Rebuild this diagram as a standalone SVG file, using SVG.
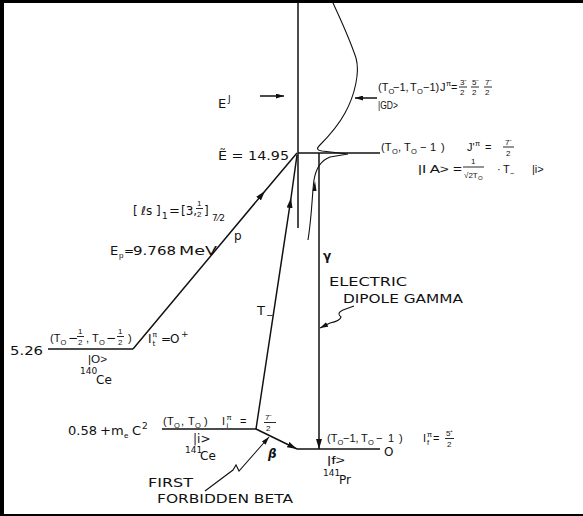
<svg xmlns="http://www.w3.org/2000/svg" width="583" height="516" viewBox="0 0 583 516">
<style>
text{font-family:"DejaVu Sans","Liberation Sans",Arial,sans-serif;fill:#111;font-size:12px}
.f{font-family:"Liberation Sans",Arial,sans-serif;font-size:11px}
.sb{font-size:7.5px}
.c{font-size:13px}
.s{font-family:"Liberation Sans",Arial,sans-serif;font-size:8px}
.sup{font-size:9px}
.ln{stroke:#111;stroke-width:1.5;fill:none}
.thin{stroke:#111;stroke-width:1.1;fill:none}
.bar{stroke:#111;stroke-width:0.9}
</style>
<defs>
<marker id="ah" viewBox="0 0 10 6" refX="10" refY="3" markerWidth="10" markerHeight="6" markerUnits="userSpaceOnUse" orient="auto"><path d="M0,0 L10,3 L0,6 z" fill="#111"/></marker>
<marker id="ahs" viewBox="0 0 8 5" refX="8" refY="2.5" markerWidth="8" markerHeight="5" markerUnits="userSpaceOnUse" orient="auto"><path d="M0,0 L8,2.5 L0,5 z" fill="#111"/></marker>
</defs>
<rect width="583" height="516" fill="#fff"/>
<g id="frame" fill="#000"><rect x="0" y="0" width="583" height="3"/><rect x="0" y="0" width="4" height="516"/><rect x="0" y="514" width="583" height="2"/></g>

<g id="connectors">
<line class="ln" x1="298" y1="3" x2="298" y2="228"/>
<path id="resonance" class="thin" d="M333,3 C340,18 350,40 356,58 C360,72 355,95 345,113 C337,128 325,140 319,146 Q315,150 322,151 L348,154 L330,157 C322,160 316,168 314,180 C312,195 312,215 308,240"/>
<path d="M315,181 L312.5,191 L316.5,191 z" fill="#111"/>
<polyline class="ln" points="133,349 265,191 297,153" marker-mid="url(#ah)"/>
<polyline class="ln" points="256,429 291,198 297,155" marker-mid="url(#ah)"/>
<line class="ln" x1="319" y1="153" x2="319" y2="449" marker-end="url(#ah)"/>
<line class="ln" x1="256" y1="429" x2="297" y2="449" marker-end="url(#ah)"/>
<line class="ln" x1="260" y1="96" x2="284" y2="96" marker-end="url(#ahs)"/>
<line class="ln" x1="377" y1="98" x2="355" y2="98" marker-end="url(#ahs)"/>
<path class="thin" d="M205,491 L233,470 L236,465 L239,471 L269,437" marker-end="url(#ahs)"/>
<path class="thin" d="M354,306 L343,310 Q336,313 341,317 Q340,321 330,323 L320,328" marker-end="url(#ahs)"/>
</g>

<g id="level-GD">
<text class="f" y="91"><tspan x="378">(T</tspan><tspan class="sb" x="388.5" y="94">O</tspan><tspan x="393" y="91">−1,</tspan><tspan x="410">T</tspan><tspan class="sb" x="417" y="94">O</tspan><tspan x="423" y="91">−1)</tspan><tspan x="440">J</tspan><tspan class="sb" x="446" y="86">π</tspan><tspan x="451" y="91">=</tspan></text>
<text class="s" x="460" y="85">3⁻</text><line class="bar" x1="459" y1="87" x2="467" y2="87"/><text class="s" x="460" y="95">2</text>
<text class="s" x="472" y="85">5⁻</text><line class="bar" x1="471" y1="87" x2="479" y2="87"/><text class="s" x="472" y="95">2</text>
<text class="s" x="485" y="85">7⁻</text><line class="bar" x1="484" y1="87" x2="492" y2="87"/><text class="s" x="485" y="95">2</text>
<text class="f" x="378" y="109" textLength="20" lengthAdjust="spacingAndGlyphs">|GD&gt;</text>
<text class="c" y="108"><tspan x="218">E</tspan><tspan class="sup" x="228" y="102">J</tspan></text>
</g>

<g id="level-IA">
<line class="ln" x1="298" y1="153" x2="380" y2="153"/>
<text class="c" x="218" y="160" textLength="71" lengthAdjust="spacingAndGlyphs">Ẽ = 14.95</text>
<text class="f" y="151"><tspan x="381">(T</tspan><tspan class="sb" x="392" y="154">O</tspan><tspan x="398" y="151">,</tspan><tspan x="404">T</tspan><tspan class="sb" x="411" y="154">O</tspan><tspan x="420" y="151">−</tspan><tspan x="430">1</tspan><tspan x="441">)</tspan></text>
<text class="f" y="151"><tspan x="467">J'</tspan><tspan class="sb" x="475" y="146">π</tspan><tspan x="485" y="151">=</tspan></text>
<text class="s" x="505" y="145">7⁻</text><line class="bar" x1="503" y1="147" x2="514" y2="147"/><text class="s" x="506" y="156">2</text>
<text class="f" x="418" y="173" textLength="44" lengthAdjust="spacingAndGlyphs">|I A&gt; =</text>
<text class="s" x="471" y="164">1</text><line class="bar" x1="463" y1="167" x2="484" y2="167"/>
<text class="s" y="178"><tspan x="464">√2T</tspan><tspan font-size="6" x="478" y="180">O</tspan></text>
<text class="f" y="173"><tspan x="497">·</tspan><tspan x="503">T</tspan><tspan class="sb" x="510" y="176">−</tspan><tspan x="532" y="173">|i&gt;</tspan></text>
</g>

<g id="proton-label">
<text font-size="14" x="133" y="215">[<tspan x="141">ℓs</tspan><tspan x="156">]</tspan></text>
<text class="sup" x="162" y="219">1</text>
<text class="c" x="169" y="215">=</text>
<text font-size="14" x="181" y="215">[3,</text>
<text class="s" x="197" y="206">1</text><line class="bar" x1="196" y1="208.5" x2="203" y2="208.5"/><text class="s" x="197" y="217">2</text>
<text font-size="14" x="204" y="215">]</text>
<text class="sup" x="212" y="221">7⁄2</text>
<text font-size="14" x="234" y="240">p</text>
<text class="c" y="255"><tspan x="110">E</tspan><tspan class="s" x="119" y="258">p</tspan></text>
<text font-family="Liberation Sans, Arial, sans-serif" font-size="13" x="124" y="255">=</text>
<text class="c" x="133" y="255" textLength="43" lengthAdjust="spacingAndGlyphs">9.768</text>
<text class="c" x="179" y="255" textLength="38" lengthAdjust="spacingAndGlyphs">MeV</text>
<text class="c" y="315"><tspan x="257">T</tspan><tspan class="sup" x="266" y="318">−</tspan></text>
</g>

<g id="level-140Ce">
<line class="ln" x1="48" y1="349" x2="133" y2="349"/>
<text class="c" x="10" y="355" textLength="33" lengthAdjust="spacingAndGlyphs">5.26</text>
<text class="f" y="342"><tspan x="50">(T</tspan><tspan class="sb" x="60.5" y="345">O</tspan></text>
<text font-size="10" x="68" y="342">−</text>
<text class="s" x="78" y="334">1</text><line class="bar" x1="77" y1="336.5" x2="84" y2="336.5"/><text class="s" x="78" y="345">2</text>
<text class="f" y="342"><tspan x="86">,</tspan><tspan x="92">T</tspan><tspan class="sb" x="99" y="345">O</tspan></text>
<text font-size="10" x="106" y="342">−</text>
<text class="s" x="118" y="334">1</text><line class="bar" x1="117" y1="336.5" x2="124" y2="336.5"/><text class="s" x="118" y="345">2</text>
<text class="f" x="128" y="342">)</text>
<text font-family="Liberation Sans, Arial, sans-serif" font-size="12" y="343"><tspan x="148">I</tspan><tspan class="sb" x="152.5" y="346">t</tspan><tspan class="sb" x="152.5" y="337">π</tspan><tspan x="161" y="343">=</tspan><tspan x="170">O</tspan><tspan class="sup" x="181" y="337">+</tspan></text>
<text class="f" x="88" y="363" textLength="19" lengthAdjust="spacingAndGlyphs">|O&gt;</text>
<text class="sup" x="80" y="374">140</text><text font-size="14" x="96" y="384">Ce</text>
</g>

<g id="level-141Ce">
<line class="ln" x1="162" y1="429" x2="256" y2="429"/>
<text class="c" x="68" y="435" textLength="29" lengthAdjust="spacingAndGlyphs">0.58</text>
<text class="c" y="435"><tspan x="100">+</tspan><tspan x="111">m</tspan><tspan class="s" x="124" y="438">e</tspan><tspan x="132" y="435">C</tspan><tspan class="sup" x="142" y="429">2</tspan></text>
<text class="f" y="425"><tspan x="163">(</tspan><tspan x="167">T</tspan><tspan class="sb" x="174" y="428">O</tspan><tspan x="181" y="425">,</tspan><tspan x="188">T</tspan><tspan class="sb" x="195" y="428">O</tspan><tspan x="204" y="425">)</tspan><tspan x="222">I</tspan><tspan class="sb" x="226.5" y="428">i</tspan><tspan class="sb" x="226.5" y="420">π</tspan><tspan x="240" y="425">=</tspan></text>
<text class="s" x="265" y="420">7⁻</text><line class="bar" x1="264" y1="422.5" x2="276" y2="422.5"/><text class="s" x="266" y="431">2</text>
<text x="193" y="443">|i&gt;</text>
<text class="sup" x="185" y="453">141</text><text font-size="14" x="200" y="460">Ce</text>
<text font-size="16" font-weight="bold" font-style="italic" x="268" y="458">β</text>
<text class="c" x="148" y="487" textLength="45" lengthAdjust="spacingAndGlyphs">FIRST</text>
<text class="c" x="157" y="503" textLength="136" lengthAdjust="spacingAndGlyphs">FORBIDDEN BETA</text>
</g>

<g id="gamma-label">
<text font-size="15" font-weight="bold" x="323" y="260">γ</text>
<text class="c" x="329" y="286" textLength="78" lengthAdjust="spacingAndGlyphs">ELECTRIC</text>
<text class="c" x="343" y="303" textLength="120" lengthAdjust="spacingAndGlyphs">DIPOLE GAMMA</text>
</g>

<g id="level-141Pr">
<line class="ln" x1="297" y1="449" x2="380" y2="449"/>
<text class="f" y="442"><tspan x="327">(T</tspan><tspan class="sb" x="337.5" y="445">O</tspan><tspan x="343" y="442">−1,</tspan><tspan x="361">T</tspan><tspan class="sb" x="368" y="445">O</tspan><tspan x="376" y="442">−</tspan><tspan x="388">1</tspan><tspan x="399">)</tspan></text>
<text class="f" y="442"><tspan x="423">I</tspan><tspan class="sb" x="427" y="445">f</tspan><tspan class="sb" x="427" y="437">π</tspan><tspan x="433" y="442">=</tspan></text>
<text class="s" x="446" y="436">5⁺</text><line class="bar" x1="445" y1="438.5" x2="454" y2="438.5"/><text class="s" x="447" y="447">2</text>
<text x="384" y="456">O</text>
<text class="f" x="327" y="464" textLength="18" lengthAdjust="spacingAndGlyphs">|f&gt;</text>
<text class="sup" x="323" y="476">141</text><text font-size="14" x="339" y="484">Pr</text>
</g>
</svg>
